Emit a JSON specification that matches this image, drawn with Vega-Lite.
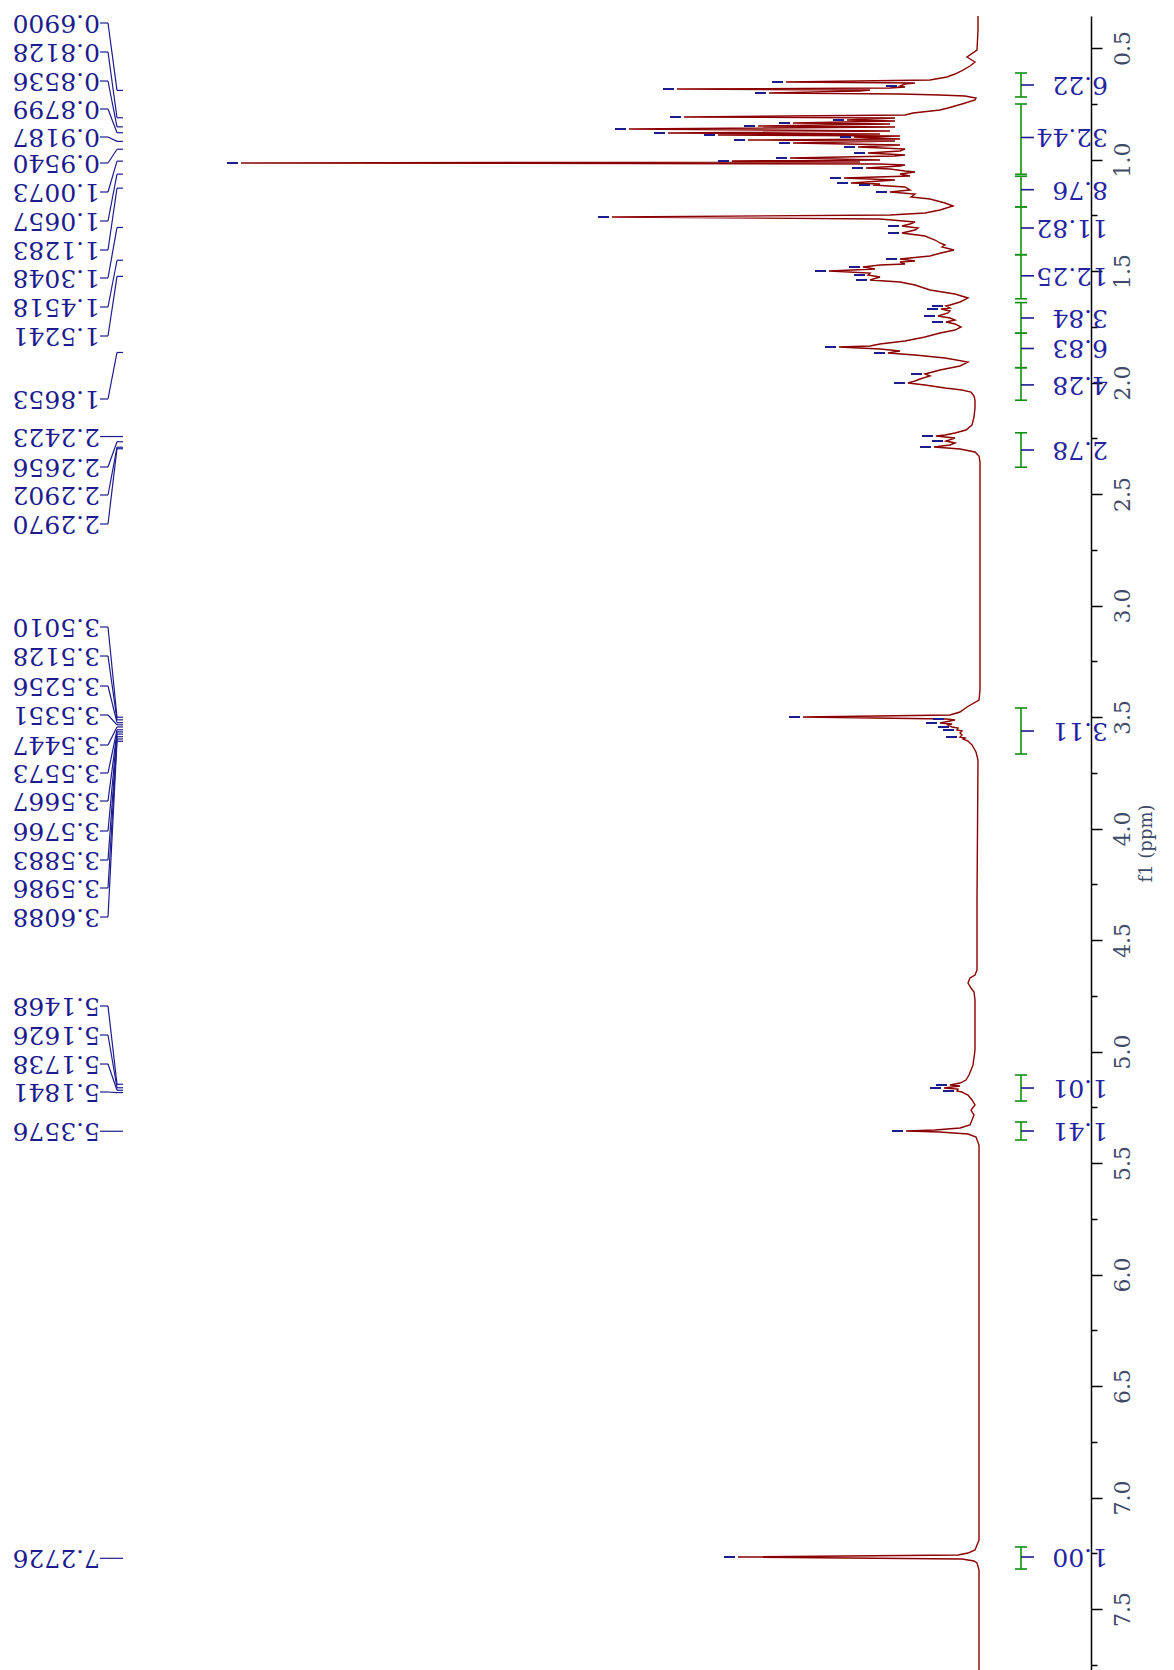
{
  "$schema": "https://vega.github.io/schema/vega-lite/v6.json",
  "autosize": {"type": "none"},
  "padding": {"top": 16, "left": 0, "right": 83, "bottom": 0},
  "width": 1091,
  "height": 1654,
  "background": "#ffffff",
  "config": {"view": {"stroke": null}},
  "datasets": {
    "spec": [
      {"ppm":0.3565,"v":0.2},{"ppm":0.4193,"v":0.2},{"ppm":0.509,"v":0.3},{"ppm":0.5404,"v":1.3},{"ppm":0.5628,"v":0.5},{"ppm":0.5807,"v":1.0},{"ppm":0.5987,"v":1.7},{"ppm":0.6166,"v":2.5},{"ppm":0.630,"v":3.3},{"ppm":0.6435,"v":5.0},{"ppm":0.6525,"v":19.4},{"ppm":0.657,"v":6.5},{"ppm":0.6614,"v":7.5},{"ppm":0.6704,"v":8.0},{"ppm":0.6749,"v":7.5},{"ppm":0.6794,"v":9.0},{"ppm":0.6839,"v":30.3},{"ppm":0.6883,"v":11.0},{"ppm":0.6928,"v":12.0},{"ppm":0.7018,"v":21.1},{"ppm":0.7063,"v":8.0},{"ppm":0.7108,"v":4.0},{"ppm":0.7152,"v":1.5},{"ppm":0.7242,"v":0.4},{"ppm":0.7332,"v":0.5},{"ppm":0.7511,"v":1.8},{"ppm":0.769,"v":3.2},{"ppm":0.778,"v":4.0},{"ppm":0.7915,"v":6.7},{"ppm":0.8004,"v":7.5},{"ppm":0.8094,"v":29.6},{"ppm":0.8139,"v":8.5},{"ppm":0.8229,"v":13.3},{"ppm":0.8274,"v":8.5},{"ppm":0.8363,"v":18.7},{"ppm":0.8408,"v":9.0},{"ppm":0.8498,"v":22.2},{"ppm":0.8543,"v":8.5},{"ppm":0.8632,"v":35.1},{"ppm":0.8722,"v":9.0},{"ppm":0.8812,"v":31.2},{"ppm":0.8857,"v":10.0},{"ppm":0.8901,"v":26.2},{"ppm":0.8946,"v":8.0},{"ppm":0.8991,"v":12.6},{"ppm":0.9081,"v":8.0},{"ppm":0.9126,"v":23.2},{"ppm":0.917,"v":8.5},{"ppm":0.926,"v":18.7},{"ppm":0.935,"v":8.0},{"ppm":0.9439,"v":12.2},{"ppm":0.9529,"v":7.5},{"ppm":0.9619,"v":8.0},{"ppm":0.9709,"v":11.2},{"ppm":0.9798,"v":7.5},{"ppm":0.9843,"v":8.5},{"ppm":0.9933,"v":19.0},{"ppm":1.0022,"v":10.0},{"ppm":1.0067,"v":24.8},{"ppm":1.0112,"v":12.0},{"ppm":1.0157,"v":73.9},{"ppm":1.0202,"v":10.0},{"ppm":1.0247,"v":7.5},{"ppm":1.0291,"v":8.0},{"ppm":1.0381,"v":11.4},{"ppm":1.0426,"v":9.0},{"ppm":1.0516,"v":7.5},{"ppm":1.056,"v":6.5},{"ppm":1.065,"v":8.0},{"ppm":1.074,"v":7.0},{"ppm":1.083,"v":13.6},{"ppm":1.0919,"v":8.5},{"ppm":1.1054,"v":12.9},{"ppm":1.1099,"v":10.0},{"ppm":1.1143,"v":10.7},{"ppm":1.1233,"v":7.5},{"ppm":1.1368,"v":7.0},{"ppm":1.1457,"v":9.0},{"ppm":1.1547,"v":6.5},{"ppm":1.1682,"v":6.9},{"ppm":1.1771,"v":5.0},{"ppm":1.1951,"v":3.5},{"ppm":1.2085,"v":2.7},{"ppm":1.2265,"v":4.0},{"ppm":1.2399,"v":5.5},{"ppm":1.2489,"v":9.0},{"ppm":1.2578,"v":36.8},{"ppm":1.2668,"v":10.0},{"ppm":1.2803,"v":6.5},{"ppm":1.2892,"v":7.0},{"ppm":1.2982,"v":7.8},{"ppm":1.3072,"v":6.2},{"ppm":1.3161,"v":6.5},{"ppm":1.3296,"v":7.8},{"ppm":1.343,"v":5.5},{"ppm":1.361,"v":4.5},{"ppm":1.3744,"v":4.0},{"ppm":1.3834,"v":3.5},{"ppm":1.3924,"v":3.8},{"ppm":1.4058,"v":2.6},{"ppm":1.4193,"v":3.9},{"ppm":1.4327,"v":5.0},{"ppm":1.4462,"v":8.0},{"ppm":1.4552,"v":6.5},{"ppm":1.4596,"v":8.0},{"ppm":1.4686,"v":7.5},{"ppm":1.4731,"v":10.0},{"ppm":1.4821,"v":11.7},{"ppm":1.491,"v":10.5},{"ppm":1.5,"v":15.1},{"ppm":1.509,"v":11.0},{"ppm":1.5179,"v":11.2},{"ppm":1.5269,"v":10.0},{"ppm":1.5404,"v":11.0},{"ppm":1.5493,"v":8.0},{"ppm":1.5628,"v":6.5},{"ppm":1.5852,"v":5.0},{"ppm":1.6031,"v":2.5},{"ppm":1.6211,"v":1.2},{"ppm":1.639,"v":2.0},{"ppm":1.6525,"v":3.0},{"ppm":1.657,"v":3.4},{"ppm":1.6659,"v":3.0},{"ppm":1.6704,"v":3.9},{"ppm":1.6794,"v":3.0},{"ppm":1.6883,"v":3.2},{"ppm":1.7018,"v":4.2},{"ppm":1.7108,"v":3.0},{"ppm":1.7197,"v":2.5},{"ppm":1.7287,"v":3.4},{"ppm":1.7377,"v":2.5},{"ppm":1.7511,"v":1.9},{"ppm":1.7646,"v":2.5},{"ppm":1.778,"v":4.0},{"ppm":1.796,"v":5.5},{"ppm":1.8139,"v":7.5},{"ppm":1.8274,"v":10.0},{"ppm":1.8363,"v":11.0},{"ppm":1.8408,"v":14.1},{"ppm":1.8498,"v":10.0},{"ppm":1.8587,"v":8.0},{"ppm":1.8677,"v":9.2},{"ppm":1.8767,"v":6.5},{"ppm":1.8901,"v":3.5},{"ppm":1.9081,"v":1.2},{"ppm":1.926,"v":2.0},{"ppm":1.9439,"v":4.0},{"ppm":1.9619,"v":5.5},{"ppm":1.9709,"v":5.0},{"ppm":1.9843,"v":6.0},{"ppm":1.9933,"v":6.5},{"ppm":2.0022,"v":7.2},{"ppm":2.0112,"v":5.5},{"ppm":2.0247,"v":3.5},{"ppm":2.0336,"v":1.8},{"ppm":2.0426,"v":0.9},{"ppm":2.0605,"v":0.6},{"ppm":2.0785,"v":0.5},{"ppm":2.1143,"v":0.5},{"ppm":2.1547,"v":0.6},{"ppm":2.1906,"v":0.8},{"ppm":2.213,"v":1.4},{"ppm":2.2265,"v":2.5},{"ppm":2.2354,"v":3.5},{"ppm":2.2399,"v":4.4},{"ppm":2.2489,"v":2.5},{"ppm":2.2623,"v":3.4},{"ppm":2.2713,"v":2.5},{"ppm":2.2803,"v":3.0},{"ppm":2.2892,"v":4.6},{"ppm":2.2982,"v":2.0},{"ppm":2.3117,"v":0.5},{"ppm":2.3296,"v":0.1},{"ppm":2.3565,"v":0.0},{"ppm":2.9753,"v":0.0},{"ppm":3.379,"v":0.0},{"ppm":3.4238,"v":0.1},{"ppm":3.4552,"v":1.3},{"ppm":3.4776,"v":2.0},{"ppm":3.491,"v":3.0},{"ppm":3.5,"v":17.7},{"ppm":3.509,"v":3.3},{"ppm":3.5135,"v":2.5},{"ppm":3.5179,"v":3.0},{"ppm":3.5269,"v":4.0},{"ppm":3.5314,"v":2.8},{"ppm":3.5359,"v":3.2},{"ppm":3.5448,"v":2.8},{"ppm":3.5493,"v":2.2},{"ppm":3.5583,"v":2.3},{"ppm":3.5628,"v":1.8},{"ppm":3.5717,"v":2.0},{"ppm":3.5807,"v":1.8},{"ppm":3.5897,"v":2.0},{"ppm":3.5942,"v":1.5},{"ppm":3.5987,"v":1.7},{"ppm":3.6076,"v":1.2},{"ppm":3.6256,"v":0.8},{"ppm":3.657,"v":0.4},{"ppm":3.6928,"v":0.2},{"ppm":4.3206,"v":0.3},{"ppm":4.6345,"v":0.3},{"ppm":4.657,"v":0.5},{"ppm":4.6704,"v":1.0},{"ppm":4.6928,"v":1.2},{"ppm":4.7152,"v":0.9},{"ppm":4.7332,"v":0.6},{"ppm":4.769,"v":0.5},{"ppm":4.9933,"v":0.5},{"ppm":5.0605,"v":0.7},{"ppm":5.083,"v":0.9},{"ppm":5.1054,"v":1.1},{"ppm":5.1278,"v":1.4},{"ppm":5.1413,"v":2.0},{"ppm":5.1502,"v":3.0},{"ppm":5.1547,"v":2.0},{"ppm":5.1637,"v":3.6},{"ppm":5.1682,"v":2.2},{"ppm":5.1771,"v":2.3},{"ppm":5.1816,"v":1.8},{"ppm":5.1861,"v":1.6},{"ppm":5.1951,"v":1.2},{"ppm":5.2175,"v":0.8},{"ppm":5.2399,"v":0.5},{"ppm":5.2623,"v":0.9},{"ppm":5.2848,"v":0.6},{"ppm":5.3072,"v":0.8},{"ppm":5.3296,"v":1.0},{"ppm":5.343,"v":2.0},{"ppm":5.352,"v":4.5},{"ppm":5.3565,"v":7.4},{"ppm":5.361,"v":4.0},{"ppm":5.37,"v":1.2},{"ppm":5.3834,"v":0.4},{"ppm":5.4193,"v":0.1},{"ppm":6.5628,"v":0.1},{"ppm":7.1906,"v":0.1},{"ppm":7.2354,"v":0.5},{"ppm":7.249,"v":1.2},{"ppm":7.2578,"v":2.2},{"ppm":7.2668,"v":24.2},{"ppm":7.2758,"v":1.8},{"ppm":7.2848,"v":0.6},{"ppm":7.2937,"v":0.3},{"ppm":7.3251,"v":0.1},{"ppm":7.7735,"v":0.1}
    ],
    "picks": [
      {"ppm":0.6525,"v":19.4},{"ppm":0.6704,"v":8.0},{"ppm":0.6839,"v":30.3},{"ppm":0.7018,"v":21.1},{"ppm":0.8094,"v":29.6},{"ppm":0.8229,"v":13.3},{"ppm":0.8363,"v":18.7},{"ppm":0.8498,"v":22.2},{"ppm":0.8632,"v":35.1},{"ppm":0.8812,"v":31.2},{"ppm":0.8901,"v":26.2},{"ppm":0.8991,"v":12.6},{"ppm":0.9126,"v":23.2},{"ppm":0.926,"v":18.7},{"ppm":0.9439,"v":12.2},{"ppm":0.9709,"v":11.2},{"ppm":0.9933,"v":19.0},{"ppm":1.0067,"v":24.8},{"ppm":1.0157,"v":73.9},{"ppm":1.0381,"v":11.4},{"ppm":1.083,"v":13.6},{"ppm":1.1054,"v":12.9},{"ppm":1.1143,"v":10.7},{"ppm":1.1457,"v":9.0},{"ppm":1.2578,"v":36.8},{"ppm":1.2982,"v":7.8},{"ppm":1.3296,"v":7.8},{"ppm":1.4462,"v":8.0},{"ppm":1.4821,"v":11.7},{"ppm":1.5,"v":15.1},{"ppm":1.5179,"v":11.2},{"ppm":1.5404,"v":11.0},{"ppm":1.657,"v":3.4},{"ppm":1.6704,"v":3.9},{"ppm":1.7018,"v":4.2},{"ppm":1.7287,"v":3.4},{"ppm":1.8408,"v":14.1},{"ppm":1.8677,"v":9.2},{"ppm":1.9619,"v":5.5},{"ppm":2.0022,"v":7.2},{"ppm":2.2399,"v":4.4},{"ppm":2.2623,"v":3.4},{"ppm":2.2892,"v":4.6},{"ppm":3.5,"v":17.7},{"ppm":3.509,"v":3.3},{"ppm":3.5269,"v":4.0},{"ppm":3.5448,"v":2.8},{"ppm":3.5583,"v":2.3},{"ppm":3.5897,"v":2.0},{"ppm":5.1502,"v":3.0},{"ppm":5.1637,"v":3.6},{"ppm":5.1771,"v":2.3},{"ppm":5.3565,"v":7.4},{"ppm":7.2668,"v":24.2}
    ],
    "labels": [
      {"label":"0.6900","ppm":0.6900,"lppm":0.3879},
      {"label":"0.8128","ppm":0.8128,"lppm":0.5179},
      {"label":"0.8536","ppm":0.8536,"lppm":0.6480},
      {"label":"0.8799","ppm":0.8799,"lppm":0.7735},
      {"label":"0.9187","ppm":0.9187,"lppm":0.8991},
      {"label":"0.9540","ppm":0.9540,"lppm":1.0157},
      {"label":"1.0073","ppm":1.0073,"lppm":1.1457},
      {"label":"1.0657","ppm":1.0657,"lppm":1.2758},
      {"label":"1.1283","ppm":1.1283,"lppm":1.4058},
      {"label":"1.3048","ppm":1.3048,"lppm":1.5314},
      {"label":"1.4518","ppm":1.4518,"lppm":1.6614},
      {"label":"1.5241","ppm":1.5241,"lppm":1.7915},
      {"label":"1.8653","ppm":1.8653,"lppm":2.0740},
      {"label":"2.2423","ppm":2.2423,"lppm":2.2423},
      {"label":"2.2656","ppm":2.2656,"lppm":2.3789},
      {"label":"2.2902","ppm":2.2902,"lppm":2.5045},
      {"label":"2.2970","ppm":2.2970,"lppm":2.6345},
      {"label":"3.5010","ppm":3.5010,"lppm":3.0964},
      {"label":"3.5128","ppm":3.5128,"lppm":3.2265},
      {"label":"3.5256","ppm":3.5256,"lppm":3.3610},
      {"label":"3.5351","ppm":3.5351,"lppm":3.4910},
      {"label":"3.5447","ppm":3.5447,"lppm":3.6256},
      {"label":"3.5573","ppm":3.5573,"lppm":3.7511},
      {"label":"3.5667","ppm":3.5667,"lppm":3.8767},
      {"label":"3.5766","ppm":3.5766,"lppm":4.0112},
      {"label":"3.5883","ppm":3.5883,"lppm":4.1413},
      {"label":"3.5986","ppm":3.5986,"lppm":4.2668},
      {"label":"3.6088","ppm":3.6088,"lppm":4.3969},
      {"label":"5.1468","ppm":5.1468,"lppm":4.7960},
      {"label":"5.1626","ppm":5.1626,"lppm":4.9260},
      {"label":"5.1738","ppm":5.1738,"lppm":5.0561},
      {"label":"5.1841","ppm":5.1841,"lppm":5.1816},
      {"label":"5.3576","ppm":5.3576,"lppm":5.3576},
      {"label":"7.2726","ppm":7.2726,"lppm":7.2726}
    ],
    "integrals": [
      {"value":"6.22","from":0.6121,"to":0.7197,"mid":0.6659},
      {"value":"32.44","from":0.7511,"to":1.0664,"mid":0.9013},
      {"value":"8.76","from":1.0753,"to":1.2126,"mid":1.1354},
      {"value":"11.82","from":1.2126,"to":1.4269,"mid":1.3072},
      {"value":"12.25","from":1.4269,"to":1.6246,"mid":1.5215},
      {"value":"3.84","from":1.6417,"to":1.7789,"mid":1.7108},
      {"value":"6.83","from":1.7789,"to":1.9336,"mid":1.8475},
      {"value":"4.28","from":1.9336,"to":2.0794,"mid":2.0108},
      {"value":"2.78","from":2.2256,"to":2.3798,"mid":2.3027},
      {"value":"3.11","from":3.4596,"to":3.6659,"mid":3.5628},
      {"value":"1.01","from":5.1054,"to":5.2220,"mid":5.1637},
      {"value":"1.41","from":5.3161,"to":5.3969,"mid":5.3565},
      {"value":"1.00","from":7.2219,"to":7.3206,"mid":7.2668}
    ]
  },
  "layer": [
    {
      "data": {"name": "spec"},
      "mark": {"type": "line", "color": "#8b0000", "strokeWidth": 1.4, "clip": false},
      "encoding": {
        "x": {"field": "v", "type": "quantitative", "scale": {"domain": [-11.1, 98], "reverse": true, "nice": false, "zero": false}, "axis": null},
        "y": {
          "field": "ppm", "type": "quantitative",
          "scale": {"domain": [0.3565, 7.7735], "reverse": true, "nice": false, "zero": false},
          "axis": {
            "orient": "right",
            "values": [0.5,0.75,1,1.25,1.5,1.75,2,2.25,2.5,2.75,3,3.25,3.5,3.75,4,4.25,4.5,4.75,5,5.25,5.5,5.75,6,6.25,6.5,6.75,7,7.25,7.5,7.75],
            "grid": false,
            "domainColor": "#000000", "domainWidth": 1.5,
            "tickColor": "#000000", "tickWidth": 1.5,
            "tickSize": {"condition": {"test": "datum.value % 0.5 === 0", "value": 11}, "value": 6},
            "labelExpr": "datum.value % 0.5 === 0 ? format(datum.value, '.1f') : ''",
            "labelAngle": 270, "labelAlign": "center", "labelBaseline": "top",
            "labelFont": "DejaVu Serif", "labelFontSize": 22, "labelColor": "#3e4a68",
            "labelPadding": 10, "labelOverlap": false, "labelFlush": false, "labelBound": false,
            "title": "f1 (ppm)", "titleAngle": 270, "titleBaseline": "top",
            "titleFont": "DejaVu Serif", "titleFontSize": 18, "titleFontWeight": "normal", "titleColor": "#3e4a68", "titlePadding": 4
          }
        },
        "order": {"field": "ppm", "type": "quantitative"}
      }
    },
    {
      "data": {"name": "picks"},
      "mark": {"type": "rule", "color": "#1c1c8e", "strokeWidth": 2, "xOffset": -3, "x2Offset": -14},
      "encoding": {
        "x": {"field": "v", "type": "quantitative"},
        "x2": {"field": "v"},
        "y": {"field": "ppm", "type": "quantitative"}
      }
    },
    {
      "data": {"name": "labels"},
      "mark": {"type": "rule", "color": "#1c1c8e", "strokeWidth": 1.2},
      "encoding": {
        "x": {"datum": 88.0, "type": "quantitative"},
        "x2": {"datum": 87.2},
        "y": {"field": "lppm", "type": "quantitative"}
      }
    },
    {
      "data": {"name": "labels"},
      "mark": {"type": "rule", "color": "#1c1c8e", "strokeWidth": 1.2},
      "encoding": {
        "x": {"datum": 87.2, "type": "quantitative"},
        "x2": {"datum": 86.3},
        "y": {"field": "lppm", "type": "quantitative"},
        "y2": {"field": "ppm"}
      }
    },
    {
      "data": {"name": "labels"},
      "mark": {"type": "rule", "color": "#1c1c8e", "strokeWidth": 1.2},
      "encoding": {
        "x": {"datum": 86.3, "type": "quantitative"},
        "x2": {"datum": 85.7},
        "y": {"field": "ppm", "type": "quantitative"}
      }
    },
    {
      "data": {"name": "labels"},
      "mark": {"type": "text", "angle": 180, "align": "left", "baseline": "middle", "font": "DejaVu Serif", "fontSize": 25, "color": "#1c1c8e"},
      "encoding": {
        "x": {"datum": 88.0, "type": "quantitative"},
        "y": {"field": "lppm", "type": "quantitative"},
        "text": {"field": "label"}
      }
    },
    {
      "data": {"name": "integrals"},
      "mark": {"type": "rule", "color": "#109010", "strokeWidth": 1.6},
      "encoding": {
        "x": {"datum": -4.1, "type": "quantitative"},
        "y": {"field": "from", "type": "quantitative"},
        "y2": {"field": "to"}
      }
    },
    {
      "data": {"name": "integrals"},
      "mark": {"type": "rule", "color": "#109010", "strokeWidth": 1.6},
      "encoding": {
        "x": {"datum": -3.5, "type": "quantitative"},
        "x2": {"datum": -4.7},
        "y": {"field": "from", "type": "quantitative"}
      }
    },
    {
      "data": {"name": "integrals"},
      "mark": {"type": "rule", "color": "#109010", "strokeWidth": 1.6},
      "encoding": {
        "x": {"datum": -3.5, "type": "quantitative"},
        "x2": {"datum": -4.7},
        "y": {"field": "to", "type": "quantitative"}
      }
    },
    {
      "data": {"name": "integrals"},
      "mark": {"type": "rule", "color": "#1c1c8e", "strokeWidth": 1.6},
      "encoding": {
        "x": {"datum": -4.1, "type": "quantitative"},
        "x2": {"datum": -5.4},
        "y": {"field": "mid", "type": "quantitative"}
      }
    },
    {
      "data": {"name": "integrals"},
      "mark": {"type": "text", "angle": 180, "align": "left", "baseline": "middle", "font": "DejaVu Serif", "fontSize": 25, "color": "#2424a0"},
      "encoding": {
        "x": {"datum": -12.8, "type": "quantitative"},
        "y": {"field": "mid", "type": "quantitative"},
        "text": {"field": "value"}
      }
    }
  ]
}
